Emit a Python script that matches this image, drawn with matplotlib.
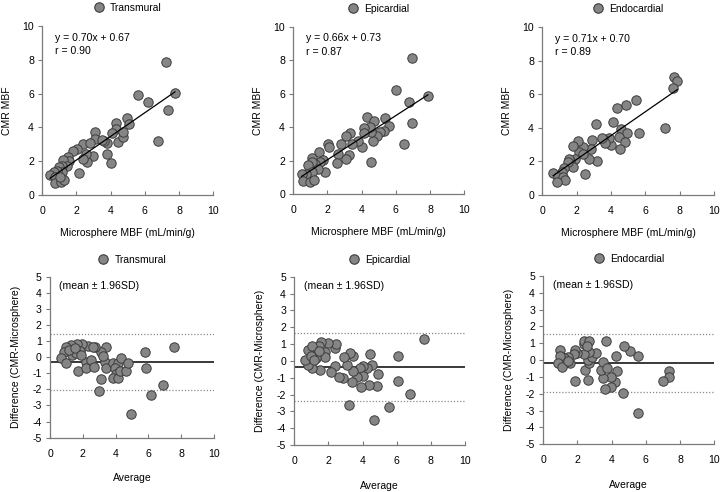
import matplotlib
matplotlib.use("Agg")
import matplotlib.pyplot as plt
from matplotlib.lines import Line2D

plt.rcParams['font.family'] = ['Liberation Sans', 'DejaVu Sans']
plt.rcParams['axes.unicode_minus'] = False

# ---------------- data ----------------
names = ["Transmural", "Epicardial", "Endocardial"]

trans_micro = [7.21, 7.76, 5.57, 6.18, 7.37, 6.74, 4.97, 5.09, 4.33, 4.33, 4.05, 4.02, 3.80, 4.44, 4.74,
               4.70, 3.80, 3.61, 3.08, 3.08, 3.47, 2.98, 2.40, 2.79, 2.63, 2.55, 2.40, 2.14, 2.05, 1.81,
               1.52, 1.56, 1.23, 1.42, 1.13, 0.97, 1.13, 0.84, 0.68, 0.45, 0.74, 0.74, 1.09, 1.29, 1.03]
trans_cmr = [7.85, 6.02, 5.92, 5.52, 5.03, 3.21, 4.54, 4.20, 4.24, 3.91, 3.69, 1.91, 2.43, 3.16, 3.45,
             3.71, 3.10, 3.21, 3.71, 3.29, 3.25, 2.33, 3.02, 3.06, 1.93, 2.43, 2.11, 1.28, 2.70, 2.62,
             2.27, 2.01, 2.07, 1.74, 1.74, 1.68, 1.34, 1.44, 1.34, 1.18, 1.08, 0.73, 0.75, 0.89, 1.08]

epi_micro = [6.97, 5.99, 6.74, 7.87, 6.93, 6.46, 4.29, 4.74, 5.37, 5.62, 5.31, 5.07, 4.92, 4.68, 4.53,
             4.49, 4.13, 4.13, 4.53, 4.00, 3.80, 3.31, 3.08, 3.41, 2.77, 3.27, 3.08, 2.63, 2.53, 2.04,
             2.10, 1.52, 1.85, 1.75, 1.59, 1.07, 1.26, 1.07, 0.87, 1.46, 1.12, 0.77, 0.48, 0.58, 0.97, 1.22]
epi_cmr = [8.15, 6.22, 5.49, 5.83, 4.22, 2.98, 4.61, 4.37, 4.57, 4.08, 3.76, 3.69, 3.47, 3.14, 3.69,
           4.02, 3.92, 3.63, 1.90, 2.78, 3.14, 3.63, 3.49, 2.98, 3.00, 2.31, 2.10, 2.41, 1.86, 2.98,
           2.78, 2.49, 1.33, 2.05, 1.92, 2.15, 1.82, 1.92, 1.72, 1.47, 1.33, 1.17, 1.17, 0.78, 0.74, 0.82]

endo_micro = [7.65, 7.85, 7.60, 5.44, 4.87, 4.33, 4.14, 3.10, 7.15, 5.63, 4.58, 4.95, 4.47, 4.82, 4.52,
              3.98, 3.88, 3.55, 3.65, 3.46, 2.87, 3.16, 2.72, 2.81, 2.39, 2.09, 2.15, 1.76, 2.35, 2.48,
              1.90, 1.64, 1.57, 1.80, 1.51, 1.26, 1.16, 0.63, 0.89, 1.22, 1.31, 0.87]
endo_cmr = [7.00, 6.80, 6.35, 5.65, 5.37, 5.16, 4.33, 4.23, 3.98, 3.70, 3.94, 3.70, 3.44, 3.15, 2.76,
            2.95, 3.41, 3.35, 3.09, 3.41, 3.29, 2.01, 2.13, 2.76, 2.85, 3.19, 2.56, 2.89, 2.46, 1.22,
            2.17, 2.01, 2.17, 1.67, 1.97, 1.63, 1.34, 1.28, 1.08, 1.08, 0.89, 0.79]

reg_slope = [0.70, 0.66, 0.71]
reg_intercept = [0.67, 0.73, 0.70]
reg_r = [0.90, 0.87, 0.89]

ba_trans_avg = [7.54, 5.77, 5.83, 6.89, 6.18, 4.96, 2.97, 3.09, 1.71, 3.39, 3.13, 2.72, 2.32, 1.97, 1.67,
                1.30, 0.96, 0.83, 0.69, 1.00, 1.46, 1.81, 1.34, 1.61, 2.22, 2.48, 2.22, 2.66, 3.37, 3.43,
                3.84, 4.15, 4.31, 3.94, 4.04, 3.84, 4.15, 4.25, 4.61, 4.76, 1.15, 1.55, 1.90, 2.60, 3.25]
ba_trans_diff = [0.65, 0.34, -0.65, -1.73, -2.35, -3.53, -2.10, -1.37, -0.86, 0.65, 0.30, 0.61, 0.72, 0.82, 0.82,
                 0.76, 0.65, 0.30, -0.07, -0.34, 0.45, 0.41, 0.14, 0.24, -0.28, -0.18, -0.69, -0.63, -0.28, -0.65,
                 -0.38, -0.38, -0.03, -0.69, -1.07, -1.31, -1.31, -0.84, -0.86, -0.38, 0.45, 0.55, 0.15, 0.62, 0.05]

ba_epi_avg = [7.58, 6.08, 6.08, 6.80, 5.53, 4.69, 3.19, 4.42, 4.90, 4.85, 4.40, 3.91, 4.55, 4.26, 4.03,
              3.87, 4.01, 3.67, 3.38, 3.44, 3.09, 3.44, 3.24, 2.89, 2.85, 2.60, 2.40, 2.17, 2.40, 2.46,
              1.97, 1.56, 1.43, 1.82, 1.82, 1.53, 1.04, 0.78, 0.65, 0.78, 1.04, 1.23, 1.27, 1.43, 0.98, 1.14]
ba_epi_diff = [1.28, 0.28, -1.18, -1.99, -2.72, -3.52, -2.63, 0.38, -0.78, -1.48, -1.44, -1.54, -0.25, -0.45, -0.29,
               -0.45, -0.88, -0.94, -1.24, -0.61, -0.25, 0.30, 0.44, 0.25, -1.04, -0.98, -0.31, -0.65, 0.74, 1.00,
               1.04, 1.10, 0.90, 0.54, 0.21, -0.55, -0.41, -0.25, 0.05, 0.64, 0.88, 0.34, 0.15, 0.60, 0.30, 0.05]

ba_endo_avg = [5.56, 4.68, 5.52, 5.09, 4.74, 3.67, 4.25, 4.31, 4.19, 3.96, 3.96, 3.63, 3.47, 3.37, 3.47,
               3.71, 2.60, 2.44, 2.69, 2.63, 2.83, 3.08, 2.69, 2.36, 2.40, 2.36, 2.69, 2.54, 1.87, 1.97,
               1.87, 1.78, 1.46, 1.58, 1.19, 1.23, 0.98, 0.98, 0.84, 1.07, 7.33, 7.33, 6.98, 1.43]
ba_endo_diff = [-3.12, -1.93, 0.27, 0.56, 0.86, 1.16, 0.25, -0.62, -1.28, -1.02, -1.61, -1.73, -1.04, -0.58, -0.09,
                -0.49, -1.18, -0.58, -0.19, 0.01, 0.21, 0.44, 0.50, 0.36, 0.94, 1.16, 1.16, 0.84, -1.24, 0.40,
                0.60, 0.36, 0.21, -0.15, 0.11, -0.15, 0.60, 0.26, -0.15, -0.43, -0.62, -1.02, -1.22, -0.03]

ba_mean = [-0.28, -0.35, -0.19]
ba_upper = [1.46, 1.67, 1.53]
ba_lower = [-2.03, -2.37, -1.92]

# ---------------- style ----------------
FILL = "#858585"
EDGE = "#3c3c3c"
SPINE = "#7a7a7a"
FS = 7.6
LFS = 7.5
MS = 46

fig = plt.figure(figsize=(7.24, 4.92), dpi=100)

top_pos = [[0.0584, 0.6037, 0.2362, 0.3435],
           [0.4051, 0.6057, 0.2362, 0.3400],
           [0.7490, 0.6037, 0.2376, 0.3415]]
bot_pos = [[0.0691, 0.1104, 0.2265, 0.3272],
           [0.4065, 0.0955, 0.2358, 0.3420],
           [0.7504, 0.0970, 0.2362, 0.3420]]

top_x = [trans_micro, epi_micro, endo_micro]
top_y = [trans_cmr, epi_cmr, endo_cmr]
bot_x = [ba_trans_avg, ba_epi_avg, ba_endo_avg]
bot_y = [ba_trans_diff, ba_epi_diff, ba_endo_diff]


def style(ax):
    for s in ["top", "right"]:
        ax.spines[s].set_visible(False)
    for s in ["left", "bottom"]:
        ax.spines[s].set_color(SPINE)
        ax.spines[s].set_linewidth(0.9)
    ax.tick_params(axis="y", direction="out", length=3, width=0.8, color=SPINE, labelsize=FS, pad=3)
    ax.tick_params(axis="x", direction="in", length=3, width=0.8, color=SPINE, labelsize=FS, pad=8)


def add_legend(ax, name, yoff):
    h = Line2D([], [], linestyle="none", marker="o", markersize=6.8,
               markerfacecolor=FILL, markeredgecolor=EDGE, markeredgewidth=0.8)
    ax.legend([h], [name], loc="center", bbox_to_anchor=(0.5, yoff), frameon=False,
              fontsize=7.4, handletextpad=0.6, handlelength=1.0, borderaxespad=0)


for i in range(3):
    ax = fig.add_axes(top_pos[i])
    xs, ys = top_x[i], top_y[i]
    ax.scatter(xs, ys, s=MS, c=FILL, edgecolors=EDGE, linewidths=0.7, zorder=3)
    x0, x1 = min(xs), max(xs)
    ax.plot([x0, x1], [reg_slope[i] * x0 + reg_intercept[i], reg_slope[i] * x1 + reg_intercept[i]],
            color="black", lw=0.9, zorder=4)
    ax.set_xlim(0, 10)
    ax.set_ylim(0, 10)
    ax.set_xticks([0, 2, 4, 6, 8, 10])
    ax.set_yticks([0, 2, 4, 6, 8, 10])
    style(ax)
    ax.set_xlabel("Microsphere MBF (mL/min/g)", fontsize=LFS, labelpad=8.5)
    ax.set_ylabel("CMR MBF", fontsize=LFS, labelpad=7.5)
    ax.text(0.72, 9.3, f"y = {reg_slope[i]:.2f}x + {reg_intercept[i]:.2f}", fontsize=FS, va="center")
    ax.text(0.72, 8.5, f"r = {reg_r[i]:.2f}", fontsize=FS, va="center")
    add_legend(ax, names[i], 1.0 + 18 / (top_pos[i][3] * 492))

for i in range(3):
    ax = fig.add_axes(bot_pos[i])
    xs, ys = bot_x[i], bot_y[i]
    ax.axhline(ba_upper[i], color="#8a8a8a", lw=0.9, ls=(0, (1, 1.5)), zorder=2)
    ax.axhline(ba_lower[i], color="#8a8a8a", lw=0.9, ls=(0, (1, 1.5)), zorder=2)
    ax.axhline(ba_mean[i], color="#2a2a2a", lw=1.3, zorder=2)
    ax.scatter(xs, ys, s=MS, c=FILL, edgecolors=EDGE, linewidths=0.7, zorder=3)
    ax.set_xlim(0, 10)
    ax.set_ylim(-5, 5)
    ax.set_xticks([0, 2, 4, 6, 8, 10])
    ax.set_yticks(list(range(-5, 6)))
    style(ax)
    ax.set_xlabel("Average", fontsize=LFS, labelpad=10.5)
    ax.set_ylabel("Difference (CMR-Microsphere)", fontsize=LFS, labelpad=8.5)
    ax.text(0.55, 4.45, "(mean \u00b1 1.96SD)", fontsize=FS, va="center")
    add_legend(ax, names[i], 1.0 + 17 / (bot_pos[i][3] * 492))

fig.savefig("out.png", dpi=100)
